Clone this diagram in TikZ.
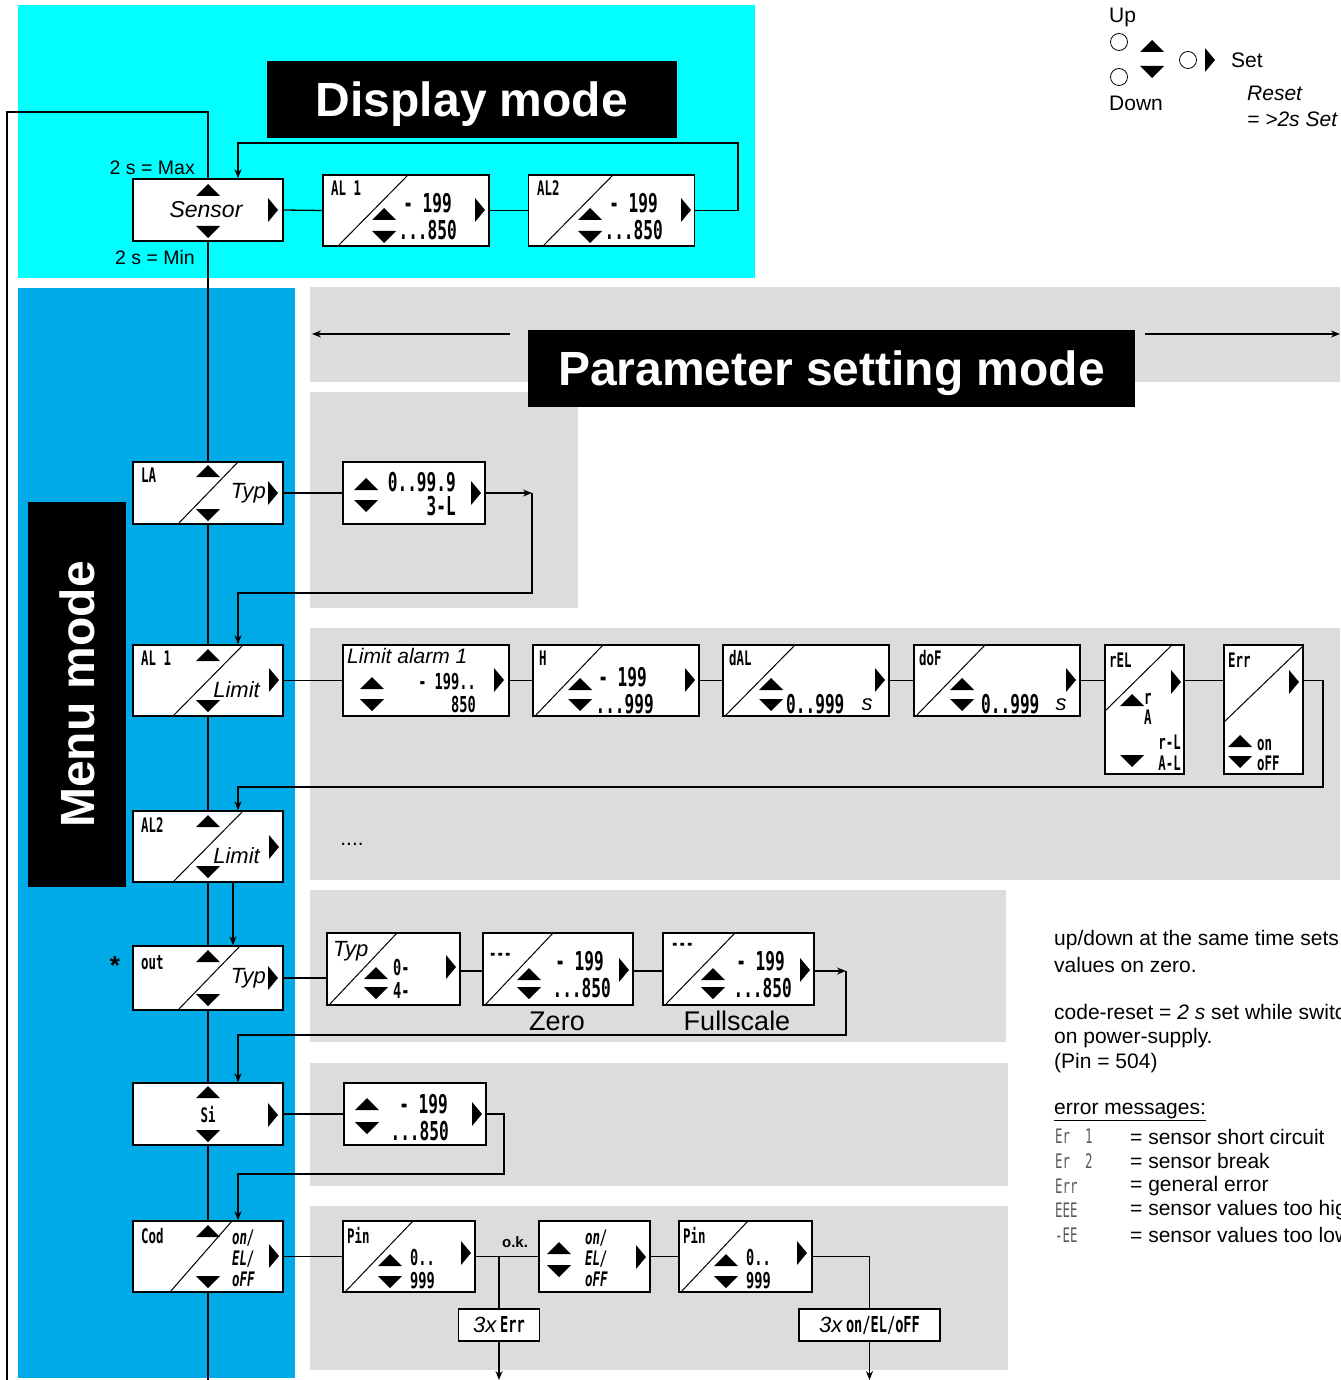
\documentclass[tikz,border=0pt]{standalone}
\usepackage{fontspec}
\setmainfont{Liberation Sans}
\newfontfamily\segfont[FakeStretch=0.62]{DejaVu Sans Mono}
\usetikzlibrary{positioning,arrows.meta}

\definecolor{dispcyan}{RGB}{0,255,255}
\definecolor{menublue}{RGB}{0,170,230}
\definecolor{parmgray}{RGB}{220,220,220}

\tikzset{
  keyup/.pic={\fill (-12,6) -- (12,6) -- (0,-6) -- cycle;},
  keydown/.pic={\fill (-12,-6) -- (12,-6) -- (0,6) -- cycle;},
  keyset/.pic={\fill (-5,-12) -- (5,0) -- (-5,12) -- cycle;},
}

\begin{document}
\begin{tikzpicture}[x=1pt,y=-1pt,
  box/.style={draw,fill=white,line width=1.4pt,inner sep=0pt},
  link/.style={line width=1.3pt},
  diag/.style={line width=1pt},
  seg/.style={font=\segfont\bfseries\fontsize{26}{26}\selectfont,inner sep=0pt,text height=19pt,text depth=0pt},
  segm/.style={font=\segfont\bfseries\fontsize{22}{22}\selectfont,inner sep=0pt,text height=16pt,text depth=0pt},
  segs/.style={font=\segfont\bfseries\fontsize{20}{20}\selectfont,inner sep=0pt,text height=14.5pt,text depth=0pt},
  segi/.style={font=\segfont\bfseries\itshape\fontsize{20}{20}\selectfont,inner sep=0pt,text height=14.5pt,text depth=0pt},
  lbl/.style={font=\fontsize{21}{24}\selectfont,inner sep=0pt},
  ital/.style={font=\itshape\fontsize{22}{24}\selectfont,inner sep=0pt},
  title/.style={fill=black,text=white,inner sep=0pt,text depth=0pt,font=\bfseries\fontsize{48}{50}\selectfont},
  arr/.style={link,-{Stealth[length=9pt,width=7pt]}}]
\useasboundingbox (0,0) rectangle (1340,1380);
\clip (0,0) rectangle (1340,1380);

% backgrounds
\fill[dispcyan] (18,5) rectangle (755,278);
\fill[menublue] (18,288) rectangle (295,1378);
\fill[parmgray] (310,287) rectangle (1340,382);
\fill[parmgray] (310,392) rectangle (578,608);
\fill[parmgray] (310,628) rectangle (1340,880);
\fill[parmgray] (310,890) rectangle (1006,1042);
\fill[parmgray] (310,1063) rectangle (1008,1186);
\fill[parmgray] (310,1206) rectangle (1008,1370);

% titles
\node[title,minimum width=410,minimum height=77] (disptitle) at (472,99.5) {Display mode};
\node[title,minimum width=607,minimum height=77] (parmtitle) at (831.5,368.5) {Parameter setting mode};
\node[title,rotate=90,minimum width=385,minimum height=98] (menutitle) at (77,694.5) {Menu mode};
\coordinate (parml) at (312,334);
\coordinate (parmr) at (1340,334);
\draw[arr] (510,334) -- (parml);
\draw[arr] (1145,334) -- (parmr);

% keys legend
\node[circle,draw,thick,minimum size=17,inner sep=0pt] (upbtn) at (1119,42) {};
\node[circle,draw,thick,minimum size=17,inner sep=0pt] (downbtn) at (1119,77) {};
\node[circle,draw,thick,minimum size=17,inner sep=0pt] (setbtn) at (1188,60) {};
\pic at (1152,46) {keyup};
\pic at (1152,72) {keydown};
\pic at (1210,60) {keyset};
\node[lbl,anchor=west] (uptxt) at (1109,17) {Up};
\node[lbl,anchor=west] (downtxt) at (1109,103) {Down};
\node[lbl,anchor=west] (settxt) at (1231,60) {Set};
\node[lbl,anchor=west,font=\itshape\fontsize{21}{24}\selectfont] (resettxt) at (1247,93) {Reset};
\node[lbl,anchor=west,font=\itshape\fontsize{21}{24}\selectfont] (resettxt2) at (1247,119) {= >2s Set};

% display mode
\node[box,minimum width=150,minimum height=62] (sensor) at (208,210) {};
\node[ital,font=\itshape\fontsize{23}{24}\selectfont] (sensortxt) at (206,210) {Sensor};
\pic at (208,190) {keyup};
\pic at (208,232) {keydown};
\pic at (273,210) {keyset};
\node[lbl,anchor=east,font=\fontsize{19.5}{22}\selectfont] (maxtxt) at (195,168) {2 s = Max};
\node[lbl,anchor=east,font=\fontsize{19.5}{22}\selectfont] (mintxt) at (195,258) {2 s = Min};

\node[box,minimum width=166,minimum height=71] (dal1) at (406,210.5) {};
\draw[diag] (338,246) -- (408,175);
\node[segs,anchor=west] (dal1a) at (331,188) {AL 1};
\node[seg,anchor=east] (dal1b) at (452,203) {- 199};
\node[seg,anchor=east] (dal1c) at (457,230) {...850};
\pic at (384,214) {keyup};
\pic at (384,237) {keydown};
\pic at (480,210) {keyset};

\node[box,minimum width=166,minimum height=71] (dal2) at (611.5,210.5) {};
\draw[diag] (543,246) -- (613,175);
\node[segs,anchor=west] (dal2a) at (537,188) {AL2};
\node[seg,anchor=east] (dal2b) at (658,203) {- 199};
\node[seg,anchor=east] (dal2c) at (663,230) {...850};
\pic at (590,214) {keyup};
\pic at (590,237) {keydown};
\pic at (686,210) {keyset};

\draw[link] (sensor.east) -- (dal1.west);
\draw[link] (dal1) -- (dal2);
\draw[arr] (dal2.east) -- (738,210.5) -- (738,143) -| ([xshift=30]sensor.north);
\coordinate (outerend) at (7,1380);
\draw[link] (sensor.north) -- (208,112) -| (outerend);

% menu mode
\node[box,minimum width=150,minimum height=62] (la) at (208,493) {};
\draw[diag] (178,524) -- (238,462);
\node[segs,anchor=west] (latxt) at (141,475) {LA};
\node[ital,anchor=east] (latyp) at (266,493) {Typ};
\pic at (208,471) {keyup};
\pic at (208,515) {keydown};
\pic at (273,493) {keyset};

\node[box,minimum width=150,minimum height=71] (mal1) at (208,680.5) {};
\draw[diag] (173,716) -- (243,645);
\node[segs,anchor=west] (mal1txt) at (141,658) {AL 1};
\node[ital,anchor=east] (mal1lim) at (260,690) {Limit};
\pic at (208,655) {keyup};
\pic at (208,706) {keydown};
\pic at (274,680) {keyset};

\node[box,minimum width=150,minimum height=71] (mal2) at (208,846.5) {};
\draw[diag] (173,882) -- (243,811);
\node[segs,anchor=west] (mal2txt) at (141,825) {AL2};
\node[ital,anchor=east] (mal2lim) at (260,856) {Limit};
\pic at (208,821) {keyup};
\pic at (208,872) {keydown};
\pic at (274,847) {keyset};

\node[box,minimum width=150,minimum height=64] (outm) at (208,978) {};
\draw[diag] (178,1010) -- (240,946);
\node[segs,anchor=west] (outtxt) at (141,962) {out};
\node[ital,anchor=east] (outtyp) at (266,978) {Typ};
\node[font=\bfseries\fontsize{26}{26}\selectfont,inner sep=0pt] (star) at (115,966) {*};
\pic at (208,956) {keyup};
\pic at (208,1000) {keydown};
\pic at (273,978) {keyset};

\node[box,minimum width=150,minimum height=62] (si) at (208,1114) {};
\node[segs] (sitxt) at (208,1115) {Si};
\pic at (208,1092) {keyup};
\pic at (208,1136) {keydown};
\pic at (273,1115) {keyset};

\node[box,minimum width=150,minimum height=71] (cod) at (208,1256.5) {};
\draw[diag] (170,1292) -- (232,1221);
\node[segs,anchor=west] (codtxt) at (141,1236) {Cod};
\node[segi,anchor=west] (codon) at (232,1237) {on/};
\node[segi,anchor=west] (codel) at (232,1258) {EL/};
\node[segi,anchor=west] (codoff) at (232,1279) {oFF};
\pic at (208,1231) {keyup};
\pic at (208,1282) {keydown};
\pic at (274,1256) {keyset};

\coordinate (menuend) at (208,1380);
\draw[link] (sensor.south) -- (la.north) (la.south) -- (mal1.north)
  (mal1.south) -- (mal2.north) (mal2.south) -- (outm.north)
  (outm.south) -- (si.north) (si.south) -- (cod.north) (cod.south) -- (menuend);
\draw[arr] ([xshift=25]mal2.south) -- ([xshift=25]outm.north);

% parameter setting: LA
\node[box,minimum width=142,minimum height=62] (plb) at (414,493) {};
\node[seg,anchor=east] (plb1) at (456,482) {0..99.9};
\node[seg,anchor=east] (plb2) at (456,506) {3-L};
\pic at (366,484) {keyup};
\pic at (366,506) {keydown};
\pic at (476,493) {keyset};
\coordinate (laend) at (532,493);
\draw[link] (la) -- (plb);
\draw[arr] (plb) -- (laend);
\draw[arr] (laend) -- (532,593) -| ([xshift=30]mal1.north);

% parameter setting: AL1
\node[box,minimum width=166,minimum height=71] (lim1) at (426,680.5) {};
\node[ital,anchor=west,font=\itshape\fontsize{21}{24}\selectfont] (lim1a) at (347,656) {Limit alarm 1};
\node[segm,anchor=east] (lim1b) at (476,681) {- 199..};
\node[segm,anchor=east] (lim1c) at (476,704) {850};
\pic at (372,683) {keyup};
\pic at (372,705) {keydown};
\pic at (499,680) {keyset};

\node[box,minimum width=166,minimum height=71] (hbox) at (616,680.5) {};
\draw[diag] (535,716) -- (603,645);
\node[segs,anchor=west] (hboxa) at (539,658) {H};
\node[seg,anchor=east] (hboxb) at (647,677) {- 199};
\node[seg,anchor=east] (hboxc) at (654,704) {...999};
\pic at (580,684) {keyup};
\pic at (580,705) {keydown};
\pic at (690,680) {keyset};

\node[box,minimum width=166,minimum height=71] (dal) at (806,680.5) {};
\draw[diag] (725,716) -- (795,645);
\node[segs,anchor=west] (dala) at (729,658) {dAL};
\node[seg,anchor=west] (dalb) at (786,704) {0..999};
\node[ital] (dals) at (867,705) {s};
\pic at (771,684) {keyup};
\pic at (771,705) {keydown};
\pic at (880,680) {keyset};

\node[box,minimum width=166,minimum height=71] (dof) at (997,680.5) {};
\draw[diag] (916,716) -- (985,645);
\node[segs,anchor=west] (dofa) at (919,658) {doF};
\node[seg,anchor=west] (dofb) at (981,704) {0..999};
\node[ital] (dofs) at (1061,705) {s};
\pic at (962,684) {keyup};
\pic at (962,705) {keydown};
\pic at (1071,680) {keyset};

\node[box,minimum width=79,minimum height=129] (rel) at (1144.5,709.5) {};
\draw[diag] (1105,711) -- (1172,645);
\node[segs,anchor=west] (rela) at (1109,660) {rEL};
\node[segs,anchor=west] (relb) at (1144,697) {r};
\node[segs,anchor=west] (relc) at (1144,717) {A};
\node[segs,anchor=east] (reld) at (1181,742) {r-L};
\node[segs,anchor=east] (rele) at (1181,763) {A-L};
\pic at (1132,700) {keyup};
\pic at (1132,761) {keydown};
\pic at (1176,682) {keyset};

\node[box,minimum width=79,minimum height=129] (err) at (1263.5,709.5) {};
\draw[diag] (1224,722) -- (1303,646);
\node[segs,anchor=west] (erra) at (1228,660) {Err};
\node[segs,anchor=west] (errb) at (1257,743) {on};
\node[segs,anchor=west] (errc) at (1257,763) {oFF};
\pic at (1240,741) {keyup};
\pic at (1240,762) {keydown};
\pic at (1294,682) {keyset};

\coordinate (rowa) at (0,680.5);
\draw[link] (mal1) -- (lim1);
\draw[link] (lim1) -- (hbox);
\draw[link] (hbox) -- (dal);
\draw[link] (dal) -- (dof);
\draw[link] (dof.east) -- (rowa -| rel.west);
\draw[link] (rowa -| rel.east) -- (rowa -| err.west);
\draw[arr] (rowa -| err.east) -- (1323,680.5) -- (1323,787) -| ([xshift=30]mal2.north);

\node[lbl] (dotstxt) at (352,844) {....};

% parameter setting: out
\node[box,minimum width=133,minimum height=72] (otyp) at (393.5,969) {};
\draw[diag] (329,1005) -- (397,933);
\node[ital,anchor=west] (otypa) at (333,951) {Typ};
\node[segm,anchor=west] (otypb) at (393,967) {0-};
\node[segm,anchor=west] (otypc) at (393,990) {4-};
\pic at (376,973) {keyup};
\pic at (376,993) {keydown};
\pic at (451,967) {keyset};

\node[box,minimum width=150,minimum height=72] (ozero) at (558,969) {};
\draw[diag] (485,1005) -- (553,933);
\node[segs,anchor=west] (ozeroa) at (489,953) {---};
\node[seg,anchor=east] (ozerob) at (604,961) {- 199};
\node[seg,anchor=east] (ozeroc) at (611,988) {...850};
\pic at (529,974) {keyup};
\pic at (529,993) {keydown};
\pic at (624,970) {keyset};
\node[lbl,font=\fontsize{27}{28}\selectfont] (zerotxt) at (557,1021) {Zero};

\node[box,minimum width=151,minimum height=72] (ofull) at (738.5,969) {};
\draw[diag] (665,1005) -- (735,933);
\node[segs,anchor=west] (ofulla) at (671,943) {---};
\node[seg,anchor=east] (ofullb) at (785,961) {- 199};
\node[seg,anchor=east] (ofullc) at (792,988) {...850};
\pic at (713,974) {keyup};
\pic at (713,993) {keydown};
\pic at (805,970) {keyset};
\node[lbl,font=\fontsize{27}{28}\selectfont] (fulltxt) at (737,1021) {Fullscale};

\coordinate (rowo) at (0,971);
\coordinate (outend) at (846,971);
\draw[link] (outm) -- (outm.east -| otyp.west);
\draw[link] (rowo -| otyp.east) -- (rowo -| ozero.west);
\draw[link] (rowo -| ozero.east) -- (rowo -| ofull.west);
\draw[arr] (rowo -| ofull.east) -- (outend);
\draw[arr] (outend) -- (846,1035) -| ([xshift=30]si.north);

% parameter setting: Si
\node[box,minimum width=142,minimum height=62] (psi) at (415,1114) {};
\node[seg,anchor=east] (psia) at (448,1104) {- 199};
\node[seg,anchor=east] (psib) at (449,1131) {...850};
\pic at (367,1104) {keyup};
\pic at (367,1128) {keydown};
\pic at (477,1114) {keyset};
\draw[link] (si) -- (psi);
\draw[arr] (psi.east) -- (504,1114) -- (504,1174) -| ([xshift=30]cod.north);

% parameter setting: Cod
\node[box,minimum width=132,minimum height=71] (pin1) at (409,1256.5) {};
\draw[diag] (345,1292) -- (413,1221);
\node[segs,anchor=west] (pin1a) at (347,1236) {Pin};
\node[segm,anchor=west] (pin1b) at (410,1257) {0..};
\node[segm,anchor=west] (pin1c) at (410,1280) {999};
\pic at (390,1260) {keyup};
\pic at (390,1282) {keydown};
\pic at (466,1253) {keyset};

\node[box,minimum width=111,minimum height=71] (oeo) at (594.5,1256.5) {};
\node[segi,anchor=west] (oeoa) at (585,1237) {on/};
\node[segi,anchor=west] (oeob) at (585,1258) {EL/};
\node[segi,anchor=west] (oeoc) at (585,1279) {oFF};
\pic at (559,1248) {keyup};
\pic at (559,1271) {keydown};
\pic at (641,1257) {keyset};

\node[box,minimum width=133,minimum height=71] (pin2) at (745.5,1256.5) {};
\draw[diag] (681,1292) -- (748,1221);
\node[segs,anchor=west] (pin2a) at (683,1236) {Pin};
\node[segm,anchor=west] (pin2b) at (746,1257) {0..};
\node[segm,anchor=west] (pin2c) at (746,1280) {999};
\pic at (726,1260) {keyup};
\pic at (726,1282) {keydown};
\pic at (802,1253) {keyset};

\node[box,minimum width=81,minimum height=32] (err3) at (499,1325) {\fontsize{22}{22}\selectfont\itshape 3x\,\segfont\bfseries\upshape Err};
\node[box,minimum width=141,minimum height=32] (oeo3) at (869.5,1325) {\fontsize{22}{22}\selectfont\itshape 3x\,\segfont\bfseries\upshape on/EL/oFF};
\node[font=\bfseries\fontsize{15}{16}\selectfont,inner sep=0pt] (oktxt) at (515,1242) {o.k.};
\coordinate (errend) at (499,1380);
\coordinate (oeoend) at (869.5,1380);
\draw[link] (cod) -- (pin1);
\draw[link] (pin1) -- (oeo);
\draw[link] (pin1.east -| err3.north) -- (err3.north);
\draw[arr] (err3.south) -- (errend);
\draw[link] (oeo) -- (pin2);
\draw[link] (pin2.east) -| (oeo3.north);
\draw[arr] (oeo3.south) -- (oeoend);

% notes
\node[lbl,anchor=west] (note1) at (1054,940) {up/down at the same time sets};
\node[lbl,anchor=west] (note2) at (1054,965) {values on zero.};
\node[lbl,anchor=west] (note3) at (1054,1014) {code-reset = \textit{2 s} set while switching};
\node[lbl,anchor=west] (note4) at (1054,1038) {on power-supply.};
\node[lbl,anchor=west] (note5) at (1054,1063) {(Pin = 504)};
\node[lbl,anchor=west] (note6) at (1054,1112) {\underline{error messages:}};
\foreach \code/\msg [count=\i] in {Er\ \ 1/sensor short circuit, Er\ \ 2/sensor break,
    Err/general error, EEE/sensor values too high, -EE/sensor values too low}{
  \node[anchor=west,inner sep=0pt,text=black!65,font=\segfont\fontsize{20}{20}\selectfont] (code\i) at (1055,1112+24.6*\i) {\code};
  \node[lbl,anchor=west] (msg\i) at (1130,1112+24.6*\i) {= \msg};
}
\end{tikzpicture}
\end{document}
